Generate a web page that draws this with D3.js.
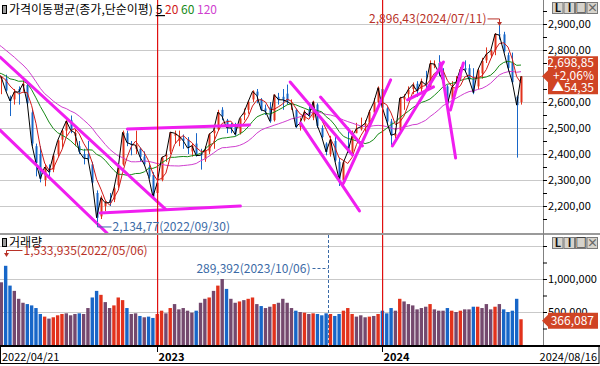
<!DOCTYPE html>
<html>
<head>
<meta charset="utf-8">
<script src="https://cdn.jsdelivr.net/npm/d3@7"></script>
<style>
  body { margin: 0; background: #fff; }
  svg { display: block; font-family: "Noto Sans CJK KR", "Noto Sans", sans-serif; }
</style>
</head>
<body>
<script>
// kospi weekly candle chart with moving averages and volume
// week 0 = Mon 2022/04/18 (first trading day shown is 04/21)

var firstWeek = new Date(2022, 3, 18);

// weekly closes before the first bar, only used to seed the moving averages
var preClose = [2971,2969,2968,2971,2936,2968,3010,3017,3012,2977,2954,2921,2834,2663,2750,2747,2744,2676,2713,2661,2707,2729,2739,2700,2696];

var open = [2718,2690,2690,2620,2610,2650,2660,2665,2560,2430,
  2400,2300,2345,2340,2400,2455,2490,2530,2470,2430,
  2400,2400,2360,2250,2160,2200,2225,2225,2280,2360,
  2480,2440,2420,2420,2390,2350,2320,2250,2300,2390,
  2410,2470,2450,2460,2455,2410,2440,2400,2380,2410,
  2480,2495,2570,2530,2510,2510,2480,2550,2570,2610,
  2640,2610,2575,2580,2530,2620,2620,2632,2590,2570,
  2505,2530,2570,2540,2590,2500,2440,2400,2450,2370,
  2300,2430,2410,2480,2495,2510,2520,2560,2600,2650,
  2575,2525,2470,2490,2610,2630,2650,2670,2650,2670,
  2660,2740,2750,2710,2660,2610,2670,2690,2730,2730,
  2690,2660,2710,2760,2780,2800,2860,2860,2780,2750,
  2620,2600];
var high = [2735,2700,2705,2625,2650,2660,2695,2670,2570,2440,
  2430,2360,2360,2400,2455,2495,2530,2548,2495,2450,
  2420,2450,2370,2260,2240,2220,2250,2275,2350,2490,
  2490,2450,2490,2425,2410,2360,2330,2295,2390,2410,
  2485,2490,2490,2475,2465,2440,2480,2420,2430,2480,
  2500,2570,2580,2535,2520,2520,2540,2575,2605,2645,
  2650,2615,2590,2600,2630,2635,2650,2667,2610,2575,
  2540,2570,2590,2605,2595,2510,2445,2470,2465,2385,
  2370,2502,2490,2520,2540,2530,2570,2615,2660,2670,
  2580,2535,2500,2620,2630,2660,2675,2680,2690,2720,
  2760,2760,2780,2730,2665,2680,2700,2735,2760,2745,
  2730,2730,2770,2810,2800,2865,2896,2870,2790,2790,
  2625,2700];
var low = [2695,2630,2640,2546,2590,2590,2640,2590,2430,2314,
  2291,2276,2310,2330,2390,2425,2470,2480,2430,2400,
  2360,2370,2280,2135,2150,2180,2200,2215,2270,2355,
  2430,2395,2400,2370,2355,2305,2230,2180,2295,2370,
  2400,2440,2430,2420,2400,2390,2390,2340,2370,2400,
  2420,2490,2530,2480,2480,2470,2475,2530,2555,2600,
  2595,2565,2550,2520,2525,2590,2570,2590,2570,2500,
  2490,2525,2540,2530,2500,2460,2395,2390,2370,2277,
  2270,2405,2400,2480,2490,2480,2500,2550,2595,2560,
  2510,2435,2460,2480,2570,2610,2630,2620,2630,2650,
  2650,2730,2700,2670,2560,2600,2660,2680,2715,2680,
  2630,2650,2690,2750,2770,2780,2840,2790,2720,2670,
  2386,2590];
var close = [2704,2695,2644,2604,2639,2638,2670,2595,2440,2366,
  2305,2350,2330,2394,2452,2490,2527,2492,2481,2409,
  2384,2382,2290,2155,2232,2212,2213,2268,2348,2483,
  2444,2437,2434,2389,2360,2313,2236,2289,2386,2395,
  2484,2480,2469,2451,2423,2432,2394,2395,2415,2476,
  2490,2561,2544,2501,2500,2475,2537,2559,2601,2641,
  2625,2570,2564,2526,2628,2609,2608,2602,2591,2504,
  2519,2563,2547,2601,2508,2465,2408,2456,2375,2302,
  2368,2409,2469,2497,2505,2518,2563,2599,2655,2578,
  2525,2472,2478,2615,2620,2648,2667,2642,2680,2666,
  2748,2746,2714,2681,2591,2656,2676,2727,2724,2687,
  2636,2722,2758,2784,2797,2862,2857,2795,2731,2676,
  2588,2699];
// average daily volume per week, in thousands of axis units
var volK = [1050,950,1200,900,820,700,640,620,600,560,
  470,430,400,420,450,470,480,450,470,480,
  470,560,720,820,760,650,560,600,720,680,
  560,470,480,440,420,430,410,470,520,480,
  560,620,540,560,520,490,520,640,700,720,
  820,900,1000,850,700,640,660,680,700,720,
  620,590,560,580,620,640,700,640,560,520,
  500,490,470,480,470,450,480,470,440,470,
  520,560,470,430,450,420,430,440,470,520,
  480,560,520,700,660,620,600,540,560,580,
  620,540,520,520,560,520,500,520,540,540,
  580,580,560,620,540,580,620,540,500,520,
  700,390];

// hand drawn trend lines, [week, price] end points
var trendLines = [
  [[0.7, 2773], [38.9, 2188]],
  [[0.7, 2492], [25.4, 2096]],
  [[30.1, 2496], [58.3, 2512]],
  [[23.8, 2173], [56.2, 2200]],
  [[67.7, 2677], [82.1, 2396]],
  [[74.7, 2619], [84.4, 2431]],
  [[70.1, 2519], [83.7, 2181]],
  [[80.0, 2288], [90.9, 2685]],
  [[91.3, 2431], [103.1, 2754]],
  [[94.8, 2608], [100.8, 2658]],
  [[102.4, 2750], [105.9, 2385]],
  [[104.7, 2569], [107.7, 2750]]
];

var lastClose = 2698.85, lastChange = 54.35, lastPct = 2.06, lastVolume = 366087;
var maxPrice = {value: 2896.43, date: "2024/07/11"};
var minPrice = {value: 2134.77, date: "2022/09/30"};
var maxVolume = {value: 1533935, date: "2022/05/06"};
var minVolume = {value: 289392, date: "2023/10/06"};
var firstLabel = "2022/04/21", lastLabel = "2024/08/16";

var maNames = ["5", "20", "60", "120"];
var maWeeks = [1, 4, 12, 24];
var maColors = ["#000000", "#d01818", "#178a17", "#cf3fcf"];

var upColor = "#e2321c", downColor = "#1766c8", mixColor = "#74496e";
var trendColor = "#f01ef0", yearColor = "#e01010", gridColor = "#c9c9c9";
var maxColor = "#b83228", minColor = "#3b6aa6", tagColor = "#d04424";

// layout
var width = 600, height = 366;
var plotR = 543, priceBot = 233, volTop = 235, volBot = 346;

var kr = d3.formatLocale({decimal: ",", thousands: ",", grouping: [3], currency: ["", ""]});
var f2 = kr.format(",.2f"), f0 = kr.format(","), fpct = kr.format("+.2f");

var weeks = close.map(function(c, i) {
  var prev = i === 0 ? preClose[preClose.length - 1] : close[i - 1];
  return {i: i, o: open[i], h: high[i], l: low[i], c: c, v: volK[i] * 1000,
          chg: (c - prev) / prev, date: d3.timeMonday.offset(firstWeek, i)};
});

var allClose = preClose.concat(close);
function movingAvg(n) {
  return close.map(function(c, i) {
    var k = i + preClose.length;
    return {i: i, v: d3.mean(allClose.slice(k - n + 1, k + 1))};
  });
}

function weekOf(str) {
  var p = str.split("/");
  return d3.timeMonday.count(firstWeek, new Date(+p[0], +p[1] - 1, +p[2]));
}

var x = d3.scaleLinear().domain([0, close.length - 1]).range([-3, 521]);
var y = d3.scaleLinear().domain([2100, 2900]).range([232, 24]);
var yv = d3.scaleLinear().domain([0, 1000000]).range([345, 279]);

var svg = d3.select("body").append("svg").attr("width", width).attr("height", height);
var defs = svg.append("defs");
defs.append("clipPath").attr("id", "clipP").append("rect")
  .attr("x", 0).attr("y", 0).attr("width", plotR).attr("height", priceBot);
defs.append("clipPath").attr("id", "clipV").append("rect")
  .attr("x", 0).attr("y", volTop).attr("width", plotR).attr("height", volBot - volTop);

// grid lines
svg.append("g").selectAll("line")
  .data(d3.range(2200, 2901, 100)).enter().append("line")
    .attr("x1", 0).attr("x2", plotR)
    .attr("y1", function(d) { return Math.round(y(d)) + 0.5; })
    .attr("y2", function(d) { return Math.round(y(d)) + 0.5; })
    .attr("stroke", gridColor);
svg.append("g").selectAll("line")
  .data([500000, 1000000, 1500000]).enter().append("line")
    .attr("x1", 0).attr("x2", plotR)
    .attr("y1", function(d) { return Math.round(yv(d)) + 0.5; })
    .attr("y2", function(d) { return Math.round(yv(d)) + 0.5; })
    .attr("stroke", gridColor);

var yearStarts = weeks.filter(function(d, i) {
  return i > 0 && d.date.getFullYear() !== weeks[i - 1].date.getFullYear();
});

// volume bars
svg.append("g").attr("clip-path", "url(#clipV)")
  .selectAll("rect")
  .data(weeks).enter().append("rect")
    .attr("x", function(d) { return x(d.i) - 1.7; })
    .attr("width", 3.4)
    .attr("y", function(d) { return yv(d.v); })
    .attr("height", function(d) { return yv(0) - yv(d.v); })
    .attr("fill", function(d) {
      return d.chg > 0.015 ? upColor : (d.chg < -0.015 ? downColor : mixColor);
    });

// candles
var gc = svg.append("g").attr("clip-path", "url(#clipP)");
gc.selectAll(".wick")
  .data(weeks).enter().append("line")
    .attr("class", "wick")
    .attr("x1", function(d) { return Math.round(x(d.i)) + 0.5; })
    .attr("x2", function(d) { return Math.round(x(d.i)) + 0.5; })
    .attr("y1", function(d) { return y(d.h); })
    .attr("y2", function(d) { return y(d.l); })
    .attr("stroke", function(d) { return d.c >= d.o ? upColor : downColor; });
gc.selectAll(".body")
  .data(weeks).enter().append("rect")
    .attr("class", "body")
    .attr("x", function(d) { return Math.round(x(d.i)) - 0.5; })
    .attr("width", 2)
    .attr("y", function(d) { return y(Math.max(d.o, d.c)); })
    .attr("height", function(d) { return Math.max(1, Math.abs(y(d.o) - y(d.c))); })
    .attr("fill", function(d) { return d.c >= d.o ? upColor : downColor; });

// year lines
svg.append("g").selectAll("rect")
  .data(yearStarts).enter().append("rect")
    .attr("x", function(d) { return Math.round(x(d.i)); })
    .attr("width", 1.2)
    .attr("y", 0).attr("height", volBot)
    .attr("fill", yearColor);

// moving averages
var line = d3.line()
  .x(function(d) { return x(d.i); })
  .y(function(d) { return y(d.v); });
maWeeks.slice().reverse().forEach(function(n, k) {
  var idx = maWeeks.length - 1 - k;
  gc.append("path")
    .datum(movingAvg(n))
    .attr("d", line)
    .attr("fill", "none")
    .attr("stroke", maColors[idx])
    .attr("stroke-width", 1);
});

// trend lines
gc.selectAll(".trend")
  .data(trendLines).enter().append("line")
    .attr("class", "trend")
    .attr("x1", function(d) { return x(d[0][0]); })
    .attr("y1", function(d) { return y(d[0][1]); })
    .attr("x2", function(d) { return x(d[1][0]); })
    .attr("y2", function(d) { return y(d[1][1]); })
    .attr("stroke", trendColor)
    .attr("stroke-width", 3)
    .attr("stroke-linecap", "round");

// panel borders
svg.append("line").attr("x1", 0).attr("x2", width).attr("y1", 234).attr("y2", 234)
  .attr("stroke", "#9a9a9a").attr("stroke-width", 2);
svg.append("line").attr("x1", plotR + 0.5).attr("x2", plotR + 0.5).attr("y1", 0).attr("y2", volBot)
  .attr("stroke", "#808080");
svg.append("line").attr("x1", 0).attr("x2", width).attr("y1", volBot).attr("y2", volBot)
  .attr("stroke", "#000").attr("stroke-width", 2);
svg.append("rect").attr("x", 0.5).attr("y", volBot).attr("width", width - 1.5).attr("height", 17.5)
  .attr("fill", "none").attr("stroke", "#000");

// right axes (2,700 label sits under the price tag)
var ya = svg.append("g").attr("transform", "translate(" + plotR + ",0)")
  .call(d3.axisRight(y)
    .tickValues(d3.range(2150, 2951, 50))
    .tickSize(4)
    .tickFormat(function(d) { return (d % 100 === 0 && d >= 2200 && d <= 2900 && d !== 2700) ? f2(d) : ""; }));
ya.select(".domain").remove();
ya.attr("font-family", null).attr("font-size", 11);
ya.selectAll("line").attr("stroke", "#000");
ya.selectAll("text").attr("x", 5).attr("fill", "#000");

var va = svg.append("g").attr("transform", "translate(" + plotR + ",0)")
  .call(d3.axisRight(yv)
    .tickValues(d3.range(250000, 1500001, 250000))
    .tickSize(4)
    .tickFormat(function(d) { return (d === 500000 || d === 1000000) ? f0(d) : ""; }));
va.select(".domain").remove();
va.attr("font-family", null).attr("font-size", 11);
va.selectAll("line").attr("stroke", "#000");
va.selectAll("text").attr("x", 5).attr("fill", "#000");

// x axis labels
var xl = svg.append("g").attr("font-size", 11);
xl.append("text").attr("x", 2).attr("y", 361).text(firstLabel);
xl.append("text").attr("x", width - 3).attr("y", 361).attr("text-anchor", "end").text(lastLabel);
yearStarts.forEach(function(d) {
  var xx = Math.round(x(d.i)) + 0.5;
  xl.append("line").attr("x1", xx).attr("x2", xx).attr("y1", volBot).attr("y2", volBot + 6).attr("stroke", "#000");
  xl.append("text").attr("x", xx + 1).attr("y", 361).attr("font-weight", "bold")
    .text(d.date.getFullYear() + (d.date.getMonth() === 11 ? 1 : 0));
});

// legends
function icon(yy) {
  svg.append("rect").attr("x", 2.5).attr("y", yy).attr("width", 4).attr("height", 8)
    .attr("fill", "#9c9c9c").attr("stroke", "#000");
}
icon(5.5);
var lg = svg.append("text").attr("x", 9).attr("y", 14).attr("font-size", 12);
lg.append("tspan").attr("fill", "#000").text("가격이동평균(종가,단순이평) ");
maNames.forEach(function(n, k) {
  lg.append("tspan").attr("fill", maColors[k])
    .attr("text-decoration", k === 0 ? "underline" : null)
    .text(n + (k < maNames.length - 1 ? " " : ""));
});
icon(238.5);
svg.append("text").attr("x", 9).attr("y", 247).attr("font-size", 12).text("거래량");

// max / min price markers
var iMax = weekOf(maxPrice.date), iMin = weekOf(minPrice.date);
var mx = Math.round(x(iMax)) + 0.5, my = y(maxPrice.value);
svg.append("path").attr("d", "M" + (mx - 12) + "," + (my - 6) + "H" + mx + "V" + (my - 2))
  .attr("fill", "none").attr("stroke", maxColor);
svg.append("path").attr("d", "M" + (mx - 2.5) + "," + (my - 3) + "L" + (mx + 2.5) + "," + (my - 3) + "L" + mx + "," + (my + 1) + "Z")
  .attr("fill", maxColor);
svg.append("text").attr("x", mx - 13).attr("y", my - 1.5).attr("text-anchor", "end")
  .attr("font-size", 12).attr("fill", maxColor)
  .text(f2(maxPrice.value) + "(" + maxPrice.date + ")");

var nx = Math.round(x(iMin)) + 0.5, ny = y(minPrice.value);
svg.append("path").attr("d", "M" + nx + "," + ny + "V" + (ny + 4) + "H" + (nx + 14))
  .attr("fill", "none").attr("stroke", minColor);
svg.append("text").attr("x", nx + 15).attr("y", ny + 8.5)
  .attr("font-size", 12).attr("fill", minColor)
  .text(f2(minPrice.value) + "(" + minPrice.date + ")");

// max / min volume markers
var ivMax = weekOf(maxVolume.date), ivMin = weekOf(minVolume.date);
var vx = Math.round(x(ivMax)) + 0.5;
svg.append("path").attr("d", "M" + (vx + 16) + ",250.5H" + vx + "V254")
  .attr("fill", "none").attr("stroke", maxColor);
svg.append("path").attr("d", "M" + (vx - 2.5) + ",253L" + (vx + 2.5) + ",253L" + vx + ",257Z")
  .attr("fill", maxColor);
svg.append("text").attr("x", vx + 17).attr("y", 255).attr("font-size", 12).attr("fill", maxColor)
  .text(f0(maxVolume.value) + "(" + maxVolume.date + ")");

var wx = Math.round(x(ivMin)) + 2.5;
svg.append("path").attr("d", "M" + (wx - 16) + ",268.5H" + wx + "M" + wx + "," + volTop + "V" + volBot)
  .attr("fill", "none").attr("stroke", minColor).attr("stroke-dasharray", "3,2");
svg.append("text").attr("x", wx - 18).attr("y", 272.5).attr("text-anchor", "end")
  .attr("font-size", 12).attr("fill", minColor)
  .text(f0(minVolume.value) + "(" + minVolume.date + ")");

// current value tags
function tag(yc, top, bottom, lines) {
  svg.append("path")
    .attr("d", "M" + (plotR - 1) + "," + yc + "L" + (plotR + 5) + "," + (yc - 6) + "V" + (yc - top) +
               "H598V" + (yc + bottom) + "H" + (plotR + 5) + "V" + (yc + 6) + "Z")
    .attr("fill", tagColor);
  var tg = svg.append("g").attr("font-size", 12).attr("fill", "#fff").attr("text-anchor", "end");
  lines.forEach(function(l) {
    tg.append("text").attr("x", 594).attr("y", yc + l[0]).text(l[1]);
  });
}
tag(y(lastClose), 20, 18, [[-9, f2(lastClose)], [4, fpct(lastPct) + "%"], [16, "▲" + f2(lastChange)]]);
tag(yv(lastVolume), 8, 8, [[4.5, f0(lastVolume)]]);

// window buttons
function buttons(y0) {
  ["L", "I", "□", "×"].forEach(function(t, k) {
    var bx = 552 + k * 11.5;
    svg.append("rect").attr("x", bx + 0.5).attr("y", y0 + 0.5).attr("width", 10.5).attr("height", 11)
      .attr("fill", "#d6d3cc").attr("stroke", "#7a7a7a");
    svg.append("text").attr("x", bx + 6).attr("y", y0 + 10).attr("text-anchor", "middle")
      .attr("font-size", 11).attr("font-weight", "bold").attr("fill", k === 3 ? "#666" : "#111").text(t);
  });
}
buttons(2);
buttons(237);
</script>
</body>
</html>
